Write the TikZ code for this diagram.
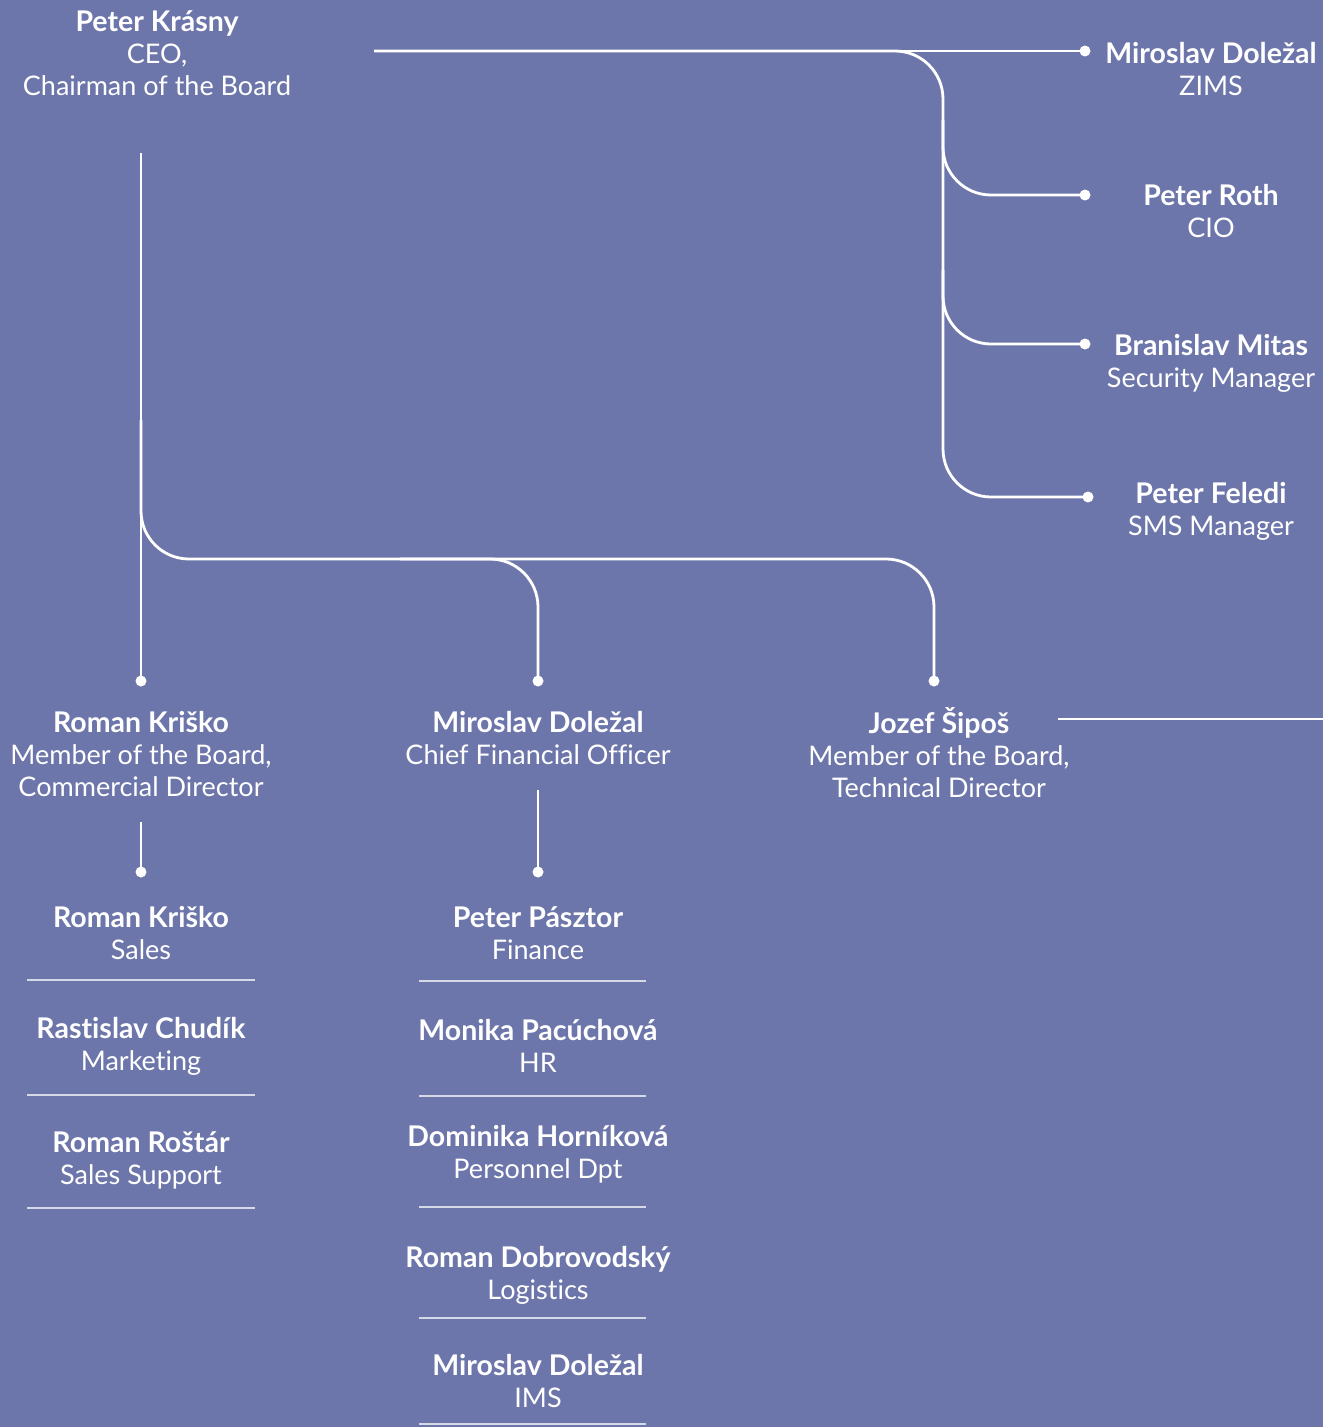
\documentclass[tikz,border=0pt]{standalone}
\usepackage{fontspec}
\setmainfont[Ligatures=NoCommon]{Lato}
\usepackage{xcolor}
\usepackage{tikz}

\definecolor{boardbg}{RGB}{109,118,170}

\tikzset{
  person/.style={align=center, text=white, inner sep=0pt,
    font=\fontsize{27}{32}\selectfont},
  link/.style={white, line width=2.8pt, rounded corners=48pt},
  divider/.style={white!72!boardbg, line width=1.4pt}
}
\newcommand{\knob}[1]{\fill[white] (#1) circle (5.5pt);}
\newcommand{\who}[1]{{\fontsize{28.5}{32}\selectfont\bfseries #1}}

\begin{document}
\begin{tikzpicture}[x=1pt,y=-1pt]
  \fill[boardbg] (0,0) rectangle (1323,1427);
  \useasboundingbox (0,0) rectangle (1323,1427);

  % top of the tree
  \node[person] (ceo) at (157,53) {\who{Peter Krásny}\\CEO,\\Chairman of the Board};

  % staff on the right
  \node[person] (zims) at (1211,69) {\who{Miroslav Doležal}\\ZIMS};
  \node[person] (cio) at (1211,211) {\who{Peter Roth}\\CIO};
  \node[person] (security) at (1211,363) {\who{Branislav Mitas}\\Security Manager};
  \node[person] (sms) at (1211,511) {\who{Peter Feledi}\\SMS Manager};

  % board members
  \node[person] (commercial) at (141,754) {\who{Roman Kriško}\\Member of the Board,\\Commercial Director};
  \node[person] (cfo) at (538,738) {\who{Miroslav Doležal}\\Chief Financial Officer};
  \node[person] (technical) at (939,752.5) {\who{Jozef Šipoš}\\Member of the Board,\\Technical Director};

  % departments
  \node[person] (sales) at (141,933) {\who{Roman Kriško}\\Sales};
  \node[person] (marketing) at (141,1046) {\who{Rastislav Chudík}\\Marketing};
  \node[person] (support) at (141,1160) {\who{Roman Roštár}\\Sales Support};
  \node[person] (finance) at (538,933) {\who{Peter Pásztor}\\Finance};
  \node[person] (hr) at (538,1046) {\who{Monika Pacúchová}\\HR};
  \node[person] (personnel) at (538,1154) {\who{Dominika Horníková}\\Personnel Dpt};
  \node[person] (logistics) at (538,1275) {\who{Roman Dobrovodský}\\Logistics};
  \node[person] (ims) at (538,1381) {\who{Miroslav Doležal}\\IMS};

  % line ends
  \coordinate (ceo-out) at (374,51);
  \coordinate (ceo-down) at (141,153);
  \coordinate (zims-pin) at (1085,51);
  \coordinate (cio-pin) at (1085,195);
  \coordinate (security-pin) at (1085,344);
  \coordinate (sms-pin) at (1088,497);
  \coordinate (commercial-pin) at (141,681);
  \coordinate (cfo-pin) at (538,681);
  \coordinate (technical-pin) at (934,681);
  \coordinate (commercial-down) at (141,822);
  \coordinate (sales-pin) at (141,872);
  \coordinate (cfo-down) at (538,790);
  \coordinate (finance-pin) at (538,872);
  \coordinate (technical-out) at (1058,719);
  \coordinate (technical-end) at (1323,719);

  % connectors
  \draw[link] (ceo-out) -- (zims-pin);
  \draw[link] (ceo-out) -- (943,51) |- (sms-pin);
  \draw[link] (943,120) |- (cio-pin);
  \draw[link] (943,270) |- (security-pin);
  \draw[link] (ceo-down) -- (commercial-pin);
  \draw[link] (141,420) |- (934,559) -- (technical-pin);
  \draw[link] (400,559) -| (cfo-pin);
  \draw[link] (commercial-down) -- (sales-pin);
  \draw[link] (cfo-down) -- (finance-pin);
  \draw[link] (technical-out) -- (technical-end);
  \knob{zims-pin} \knob{cio-pin} \knob{security-pin} \knob{sms-pin}
  \knob{commercial-pin} \knob{cfo-pin} \knob{technical-pin}
  \knob{sales-pin} \knob{finance-pin}

  % rules under the departments
  \draw[divider] (27,980) -- (255,980);
  \draw[divider] (27,1095) -- (255,1095);
  \draw[divider] (27,1208) -- (255,1208);
  \draw[divider] (419,981) -- (646,981);
  \draw[divider] (419,1096) -- (646,1096);
  \draw[divider] (419,1207) -- (646,1207);
  \draw[divider] (419,1318) -- (646,1318);
  \draw[divider] (419,1424) -- (646,1424);
\end{tikzpicture}
\end{document}
